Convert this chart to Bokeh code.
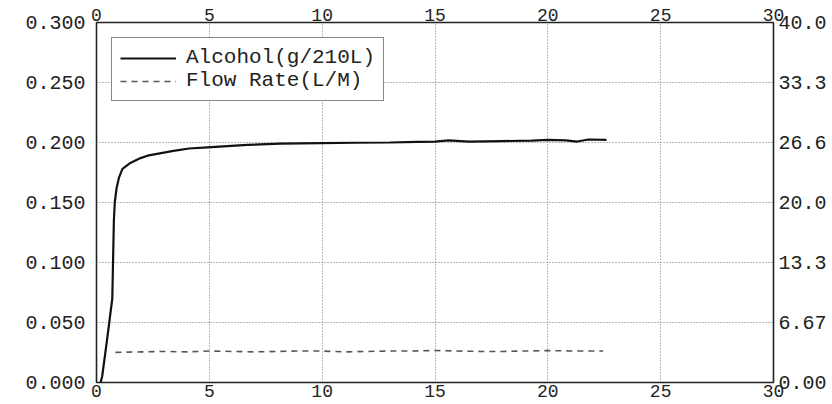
from bokeh.plotting import figure
from bokeh.models import Range1d, LinearAxis, FixedTicker
from bokeh.embed import file_html
from bokeh.resources import INLINE

# ---- data ----
x_ticks = [0, 5, 10, 15, 20, 25, 30]
x_labels = ["0", "5", "10", "15", "20", "25", "30"]
left_ticks = [0.0, 0.05, 0.10, 0.15, 0.20, 0.25, 0.30]
left_labels = ["0.000", "0.050", "0.100", "0.150", "0.200", "0.250", "0.300"]
right_ticks = [0.0, 40 / 6, 80 / 6, 20.0, 160 / 6, 200 / 6, 40.0]
right_labels = ["0.00", "6.67", "13.3", "20.0", "26.6", "33.3", "40.0"]

alcohol_t = [0.18, 0.25, 0.45, 0.70, 0.77, 0.81, 0.89, 1.00, 1.15, 1.50, 1.95, 2.26,
             2.80, 3.41, 4.10, 4.92, 5.80, 6.69, 8.15, 9.92, 11.5, 13.0, 14.2, 15.0,
             15.6, 16.5, 18.0, 19.3, 20.0, 20.8, 21.3, 21.8, 22.6]
alcohol_v = [0.000, 0.005, 0.033, 0.070, 0.135, 0.150, 0.162, 0.171, 0.178, 0.183,
             0.187, 0.189, 0.191, 0.193, 0.195, 0.196, 0.197, 0.198, 0.199, 0.1995,
             0.1998, 0.2000, 0.2005, 0.2008, 0.2018, 0.2008, 0.2012, 0.2015, 0.2022,
             0.2018, 0.2008, 0.2025, 0.2022]

flow_t = [0.84, 2, 3, 4, 5, 6, 7, 8, 9, 10, 11, 12, 13, 14, 15, 16, 17, 18, 19,
          20, 21, 22.45]
flow_v = [3.35, 3.40, 3.45, 3.40, 3.50, 3.45, 3.40, 3.45, 3.50, 3.50, 3.40, 3.45,
          3.50, 3.50, 3.55, 3.50, 3.45, 3.45, 3.50, 3.55, 3.50, 3.50]

FONT = "Liberation Mono"
TXT = "#222222"

p = figure(width=832, height=404, x_range=Range1d(0, 30), y_range=Range1d(0, 0.3),
           output_backend="svg", toolbar_location=None,
           min_border_left=96, min_border_right=59, min_border_top=22, min_border_bottom=22,
           background_fill_color="white", border_fill_color="white")
p.extra_y_ranges = {"flow": Range1d(0, 40)}

p.outline_line_color = "#222222"
p.outline_line_width = 1.6

def style_axis(ax, standoff, size="20px"):
    ax.axis_line_color = None
    ax.major_tick_out = 0
    ax.major_tick_in = 0
    ax.minor_tick_out = 0
    ax.minor_tick_in = 0
    ax.major_label_text_font = FONT
    ax.major_label_text_font_size = size
    ax.major_label_text_color = TXT
    ax.major_label_standoff = standoff

# bottom axis
xb = p.xaxis[0]
xb.ticker = FixedTicker(ticks=x_ticks)
xb.major_label_overrides = {t: l for t, l in zip(x_ticks, x_labels)}
style_axis(xb, 2, "18px")

# left axis
yl = p.yaxis[0]
yl.ticker = FixedTicker(ticks=left_ticks)
yl.major_label_overrides = {t: l for t, l in zip(left_ticks, left_labels)}
style_axis(yl, 11)

# top axis
xt = LinearAxis(ticker=FixedTicker(ticks=x_ticks))
xt.major_label_overrides = {t: l for t, l in zip(x_ticks, x_labels)}
style_axis(xt, 2, "18px")
p.add_layout(xt, "above")

# right axis
yr = LinearAxis(y_range_name="flow", ticker=FixedTicker(ticks=right_ticks))
yr.major_label_overrides = {t: l for t, l in zip(right_ticks, right_labels)}
style_axis(yr, 5)
p.add_layout(yr, "right")

# grid
p.xgrid.ticker = FixedTicker(ticks=x_ticks)
p.ygrid.ticker = FixedTicker(ticks=left_ticks)
for g in (p.xgrid[0], p.ygrid[0]):
    g.grid_line_color = "#707070"
    g.grid_line_dash = "1 2"
    g.grid_line_width = 1

# data
p.line(alcohol_t, alcohol_v, line_color="#111111", line_width=2.2,
       legend_label="Alcohol(g/210L)")
p.line(flow_t, flow_v, y_range_name="flow", line_color="#555555", line_width=1.6,
       line_dash="6 5", legend_label="Flow Rate(L/M)")

lg = p.legend[0]
lg.location = "top_left"
lg.margin = 15
lg.padding = 8
lg.spacing = 0
lg.label_height = 21
lg.glyph_width = 56
lg.glyph_height = 20
lg.label_standoff = 10
lg.label_text_font = FONT
lg.label_text_font_size = "21px"
lg.label_text_color = TXT
lg.border_line_color = "#111111"
lg.border_line_width = 1.6
lg.background_fill_color = "white"
lg.background_fill_alpha = 1.0

open("out.html", "w").write(file_html(p, INLINE))
